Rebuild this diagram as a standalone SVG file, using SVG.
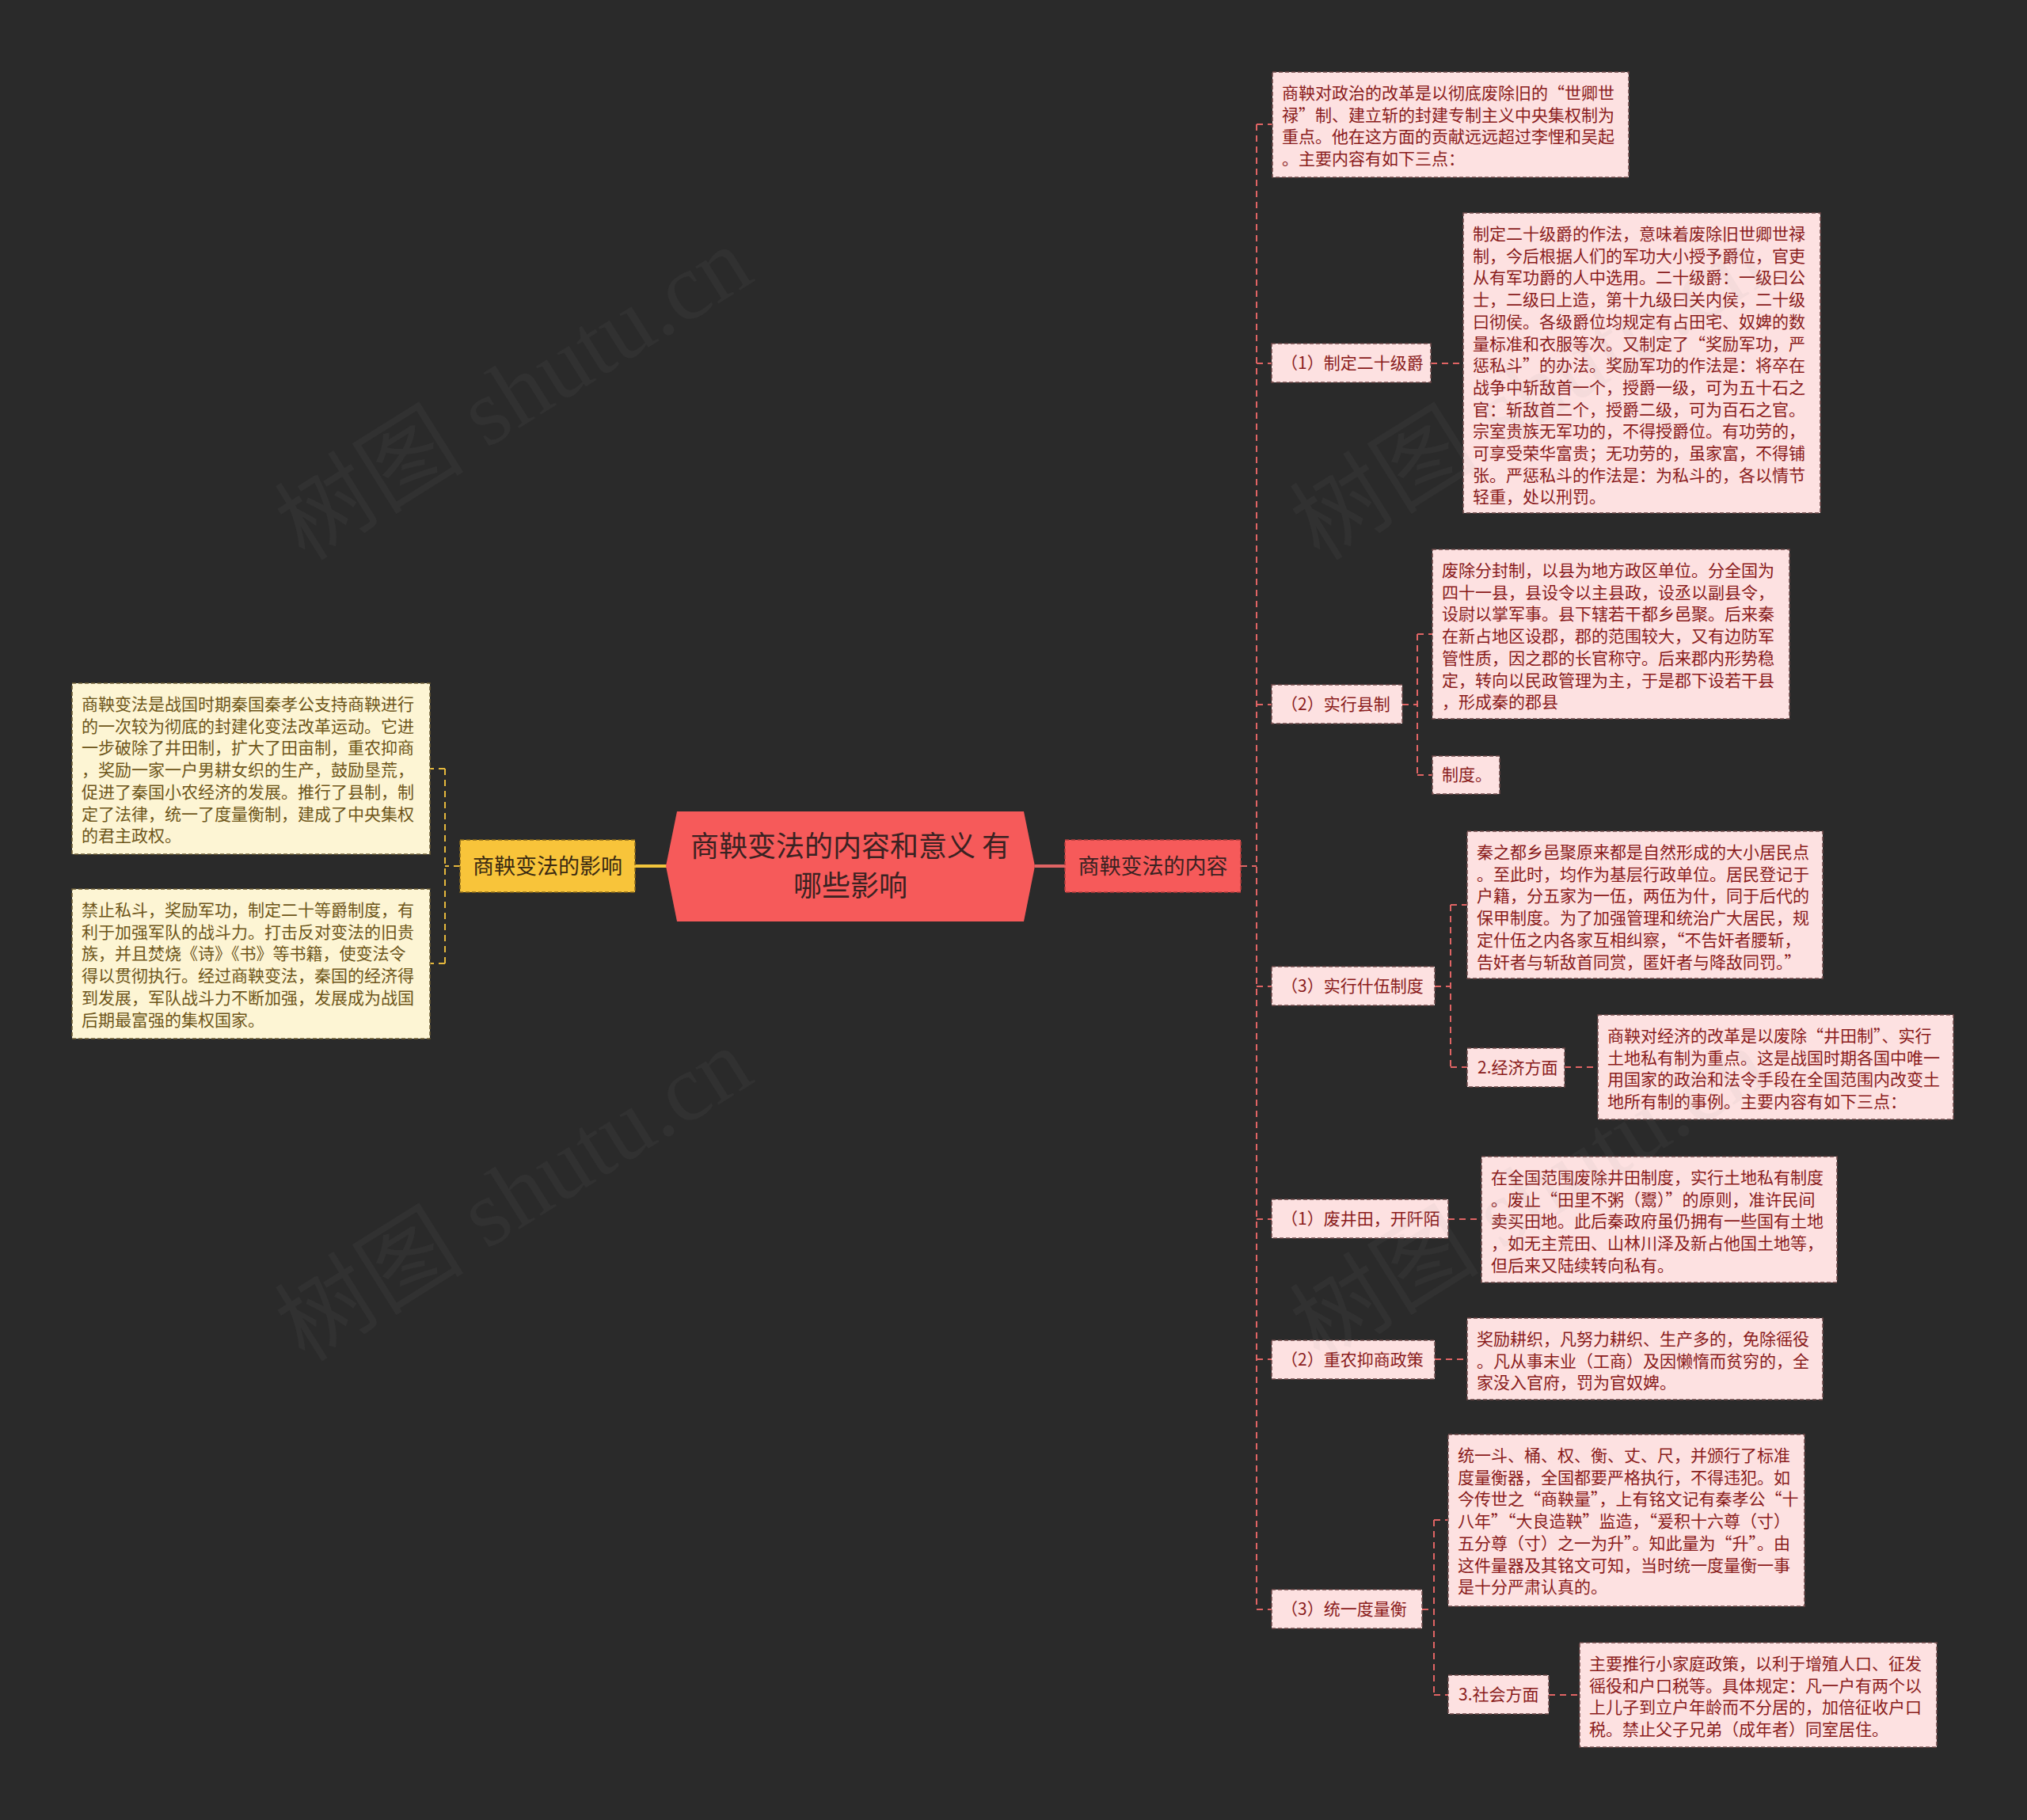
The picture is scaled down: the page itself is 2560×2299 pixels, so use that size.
<svg xmlns="http://www.w3.org/2000/svg" width="2560" height="2299" viewBox="0 0 2560 2299">
<style>
text{font-family:"Noto Sans CJK SC","Noto Sans",sans-serif;}
.lr{fill:#fde1e1;stroke:#6e4848;stroke-width:1.5;stroke-dasharray:5 3;}
.ll{fill:#fdf5d4;stroke:#6e5e34;stroke-width:1.5;stroke-dasharray:5 3;}
.tr{fill:#8a1c1c;font-size:21px;}
.tl{fill:#6e561a;font-size:21px;}
.cr{fill:none;stroke:#e06464;stroke-width:2;stroke-dasharray:8 6;}
.cl{fill:none;stroke:#e6b83c;stroke-width:2;stroke-dasharray:8 6;}
.wm{font-family:"Liberation Serif","Noto Sans CJK SC",serif;font-size:120px;fill:#8a8a8a;fill-opacity:0.07;}
</style>
<rect x="0" y="0" width="2560" height="2299" fill="#2a2a2a"/>

<g id="connectors">
<path class="cl" d="M581,1094 H562 M562,971 V1217 M562,971 H543 M562,1217 H543"/>
<path d="M802,1094 H842" stroke="#f2c53c" stroke-width="4" fill="none"/>
<path d="M1307,1094 H1345" stroke="#e06464" stroke-width="4" fill="none"/>
<path class="cr" d="M1567,1094 H1587 M1587,157 V2033 M1587,157 H1607 M1587,459 H1606 M1587,890 H1606 M1587,1246 H1606 M1587,1540 H1606 M1587,1717 H1606 M1587,2033 H1606"/>
<path class="cr" d="M1807,459 H1848"/>
<path class="cr" d="M1771,890 H1790 M1790,801 V979 M1790,801 H1809 M1790,979 H1809"/>
<path class="cr" d="M1812,1246 H1832 M1832,1143 V1348 M1832,1143 H1853 M1832,1348 H1853"/>
<path class="cr" d="M1976,1348 H2018"/>
<path class="cr" d="M1829,1540 H1871"/>
<path class="cr" d="M1812,1717 H1853"/>
<path class="cr" d="M1796,2033 H1811 M1811,1920 V2141 M1811,1920 H1829 M1811,2141 H1829"/>
<path class="cr" d="M1956,2141 H1995"/>
</g>

<g id="root">
<polygon points="855,1025 1293,1025 1307,1094 1293,1164 855,1164 841,1094" fill="#f65a5a"/>
<text x="1074" y="1082" text-anchor="middle" font-size="36" fill="#3a2222">商鞅变法的内容和意义 有</text>
<text x="1074" y="1132" text-anchor="middle" font-size="36" fill="#3a2222">哪些影响</text>
</g>

<g id="n-influence">
<rect x="581" y="1061" width="221" height="66" fill="#f8c43a" stroke="#8a6a1a" stroke-width="1.5" stroke-dasharray="5 3"/>
<text x="691.5" y="1104" text-anchor="middle" font-size="27" fill="#3a2a12">商鞅变法的影响</text>
</g>
<g id="n-influence-1">
<rect class="ll" x="91" y="863" width="452" height="216"/>
<text class="tl"><tspan x="103" y="897">商鞅变法是战国时期秦国秦孝公支持商鞅进行</tspan><tspan x="103" y="924.7">的一次较为彻底的封建化变法改革运动。它进</tspan><tspan x="103" y="952.4">一步破除了井田制，扩大了田亩制，重农抑商</tspan><tspan x="103" y="980.1">，奖励一家一户男耕女织的生产，鼓励垦荒，</tspan><tspan x="103" y="1007.8">促进了秦国小农经济的发展。推行了县制，制</tspan><tspan x="103" y="1035.5">定了法律，统一了度量衡制，建成了中央集权</tspan><tspan x="103" y="1063.2">的君主政权。</tspan></text>
</g>
<g id="n-influence-2">
<rect class="ll" x="91" y="1123" width="452" height="189"/>
<text class="tl"><tspan x="103" y="1157">禁止私斗，奖励军功，制定二十等爵制度，有</tspan><tspan x="103" y="1184.7">利于加强军队的战斗力。打击反对变法的旧贵</tspan><tspan x="103" y="1212.4">族，并且焚烧《诗》《书》等书籍，使变法令</tspan><tspan x="103" y="1240.1">得以贯彻执行。经过商鞅变法，秦国的经济得</tspan><tspan x="103" y="1267.8">到发展，军队战斗力不断加强，发展成为战国</tspan><tspan x="103" y="1295.5">后期最富强的集权国家。</tspan></text>
</g>

<g id="n-content">
<rect x="1345" y="1061" width="222" height="66" fill="#f65a5a" stroke="#b23c3c" stroke-width="1.5" stroke-dasharray="5 3"/>
<text x="1456" y="1104" text-anchor="middle" font-size="27" fill="#3a2222">商鞅变法的内容</text>
</g>

<g id="n-politics">
<rect class="lr" x="1607" y="91" width="450" height="133"/>
<text class="tr"><tspan x="1619" y="125">商鞅对政治的改革是以彻底废除旧的“世卿世</tspan><tspan x="1619" y="152.7">禄”制、建立斩的封建专制主义中央集权制为</tspan><tspan x="1619" y="180.4">重点。他在这方面的贡献远远超过李悝和吴起</tspan><tspan x="1619" y="208.1">。主要内容有如下三点：</tspan></text>
</g>

<g id="n-p1">
<rect class="lr" x="1606" y="434" width="201" height="49"/>
<text class="tr" x="1618" y="466">（1）制定二十级爵</text>
</g>
<g id="n-p1-d">
<rect class="lr" x="1848" y="269" width="451" height="379"/>
<text class="tr"><tspan x="1860" y="303">制定二十级爵的作法，意味着废除旧世卿世禄</tspan><tspan x="1860" y="330.7">制，今后根据人们的军功大小授予爵位，官吏</tspan><tspan x="1860" y="358.4">从有军功爵的人中选用。二十级爵：一级曰公</tspan><tspan x="1860" y="386.1">士，二级曰上造，第十九级曰关内侯，二十级</tspan><tspan x="1860" y="413.8">曰彻侯。各级爵位均规定有占田宅、奴婢的数</tspan><tspan x="1860" y="441.5">量标准和衣服等次。又制定了“奖励军功，严</tspan><tspan x="1860" y="469.2">惩私斗”的办法。奖励军功的作法是：将卒在</tspan><tspan x="1860" y="496.9">战争中斩敌首一个，授爵一级，可为五十石之</tspan><tspan x="1860" y="524.6">官：斩敌首二个，授爵二级，可为百石之官。</tspan><tspan x="1860" y="552.3">宗室贵族无军功的，不得授爵位。有功劳的，</tspan><tspan x="1860" y="580">可享受荣华富贵；无功劳的，虽家富，不得铺</tspan><tspan x="1860" y="607.7">张。严惩私斗的作法是：为私斗的，各以情节</tspan><tspan x="1860" y="635.4">轻重，处以刑罚。</tspan></text>
</g>

<g id="n-p2">
<rect class="lr" x="1606" y="865" width="165" height="49"/>
<text class="tr" x="1618" y="897">（2）实行县制</text>
</g>
<g id="n-p2-d">
<rect class="lr" x="1809" y="694" width="451" height="214"/>
<text class="tr"><tspan x="1821" y="728">废除分封制，以县为地方政区单位。分全国为</tspan><tspan x="1821" y="755.7">四十一县，县设令以主县政，设丞以副县令，</tspan><tspan x="1821" y="783.4">设尉以掌军事。县下辖若干都乡邑聚。后来秦</tspan><tspan x="1821" y="811.1">在新占地区设郡，郡的范围较大，又有边防军</tspan><tspan x="1821" y="838.8">管性质，因之郡的长官称守。后来郡内形势稳</tspan><tspan x="1821" y="866.5">定，转向以民政管理为主，于是郡下设若干县</tspan><tspan x="1821" y="894.2">，形成秦的郡县</tspan></text>
</g>
<g id="n-p2-e">
<rect class="lr" x="1809" y="955" width="85" height="48"/>
<text class="tr" x="1821" y="986">制度。</text>
</g>

<g id="n-p3">
<rect class="lr" x="1606" y="1221" width="206" height="49"/>
<text class="tr" x="1618" y="1253">（3）实行什伍制度</text>
</g>
<g id="n-p3-d">
<rect class="lr" x="1853" y="1050" width="449" height="186"/>
<text class="tr"><tspan x="1865" y="1084">秦之都乡邑聚原来都是自然形成的大小居民点</tspan><tspan x="1865" y="1111.7">。至此时，均作为基层行政单位。居民登记于</tspan><tspan x="1865" y="1139.4">户籍，分五家为一伍，两伍为什，同于后代的</tspan><tspan x="1865" y="1167.1">保甲制度。为了加强管理和统治广大居民，规</tspan><tspan x="1865" y="1194.8">定什伍之内各家互相纠察，“不告奸者腰斩，</tspan><tspan x="1865" y="1222.5">告奸者与斩敌首同赏，匿奸者与降敌同罚。”</tspan></text>
</g>

<g id="n-econ">
<rect class="lr" x="1853" y="1324" width="123" height="49"/>
<text class="tr" x="1866" y="1356">2.经济方面</text>
</g>
<g id="n-econ-d">
<rect class="lr" x="2018" y="1282" width="449" height="132"/>
<text class="tr"><tspan x="2030" y="1316">商鞅对经济的改革是以废除“井田制”、实行</tspan><tspan x="2030" y="1343.7">土地私有制为重点。这是战国时期各国中唯一</tspan><tspan x="2030" y="1371.4">用国家的政治和法令手段在全国范围内改变土</tspan><tspan x="2030" y="1399.1">地所有制的事例。主要内容有如下三点：</tspan></text>
</g>

<g id="n-e1">
<rect class="lr" x="1606" y="1515" width="223" height="49"/>
<text class="tr" x="1618" y="1547">（1）废井田，开阡陌</text>
</g>
<g id="n-e1-d">
<rect class="lr" x="1871" y="1461" width="449" height="159"/>
<text class="tr"><tspan x="1883" y="1495">在全国范围废除井田制度，实行土地私有制度</tspan><tspan x="1883" y="1522.7">。废止“田里不粥（鬻）”的原则，准许民间</tspan><tspan x="1883" y="1550.4">卖买田地。此后秦政府虽仍拥有一些国有土地</tspan><tspan x="1883" y="1578.1">，如无主荒田、山林川泽及新占他国土地等，</tspan><tspan x="1883" y="1605.8">但后来又陆续转向私有。</tspan></text>
</g>

<g id="n-e2">
<rect class="lr" x="1606" y="1693" width="206" height="49"/>
<text class="tr" x="1618" y="1725">（2）重农抑商政策</text>
</g>
<g id="n-e2-d">
<rect class="lr" x="1853" y="1665" width="449" height="103"/>
<text class="tr"><tspan x="1865" y="1699">奖励耕织，凡努力耕织、生产多的，免除徭役</tspan><tspan x="1865" y="1726.7">。凡从事末业（工商）及因懒惰而贫穷的，全</tspan><tspan x="1865" y="1754.4">家没入官府，罚为官奴婢。</tspan></text>
</g>

<g id="n-e3">
<rect class="lr" x="1606" y="2008" width="190" height="49"/>
<text class="tr" x="1618" y="2040">（3）统一度量衡</text>
</g>
<g id="n-e3-d">
<rect class="lr" x="1829" y="1812" width="450" height="217"/>
<text class="tr"><tspan x="1841" y="1846">统一斗、桶、权、衡、丈、尺，并颁行了标准</tspan><tspan x="1841" y="1873.7">度量衡器，全国都要严格执行，不得违犯。如</tspan><tspan x="1841" y="1901.4">今传世之“商鞅量”，上有铭文记有秦孝公“十</tspan><tspan x="1841" y="1929.1">八年”“大良造鞅”监造，“爰积十六尊（寸）</tspan><tspan x="1841" y="1956.8">五分尊（寸）之一为升”。知此量为“升”。由</tspan><tspan x="1841" y="1984.5">这件量器及其铭文可知，当时统一度量衡一事</tspan><tspan x="1841" y="2012.2">是十分严肃认真的。</tspan></text>
</g>

<g id="n-soc">
<rect class="lr" x="1829" y="2116" width="127" height="49"/>
<text class="tr" x="1842" y="2148">3.社会方面</text>
</g>
<g id="n-soc-d">
<rect class="lr" x="1995" y="2075" width="451" height="132"/>
<text class="tr"><tspan x="2007" y="2109">主要推行小家庭政策，以利于增殖人口、征发</tspan><tspan x="2007" y="2136.7">徭役和户口税等。具体规定：凡一户有两个以</tspan><tspan x="2007" y="2164.4">上儿子到立户年龄而不分居的，加倍征收户口</tspan><tspan x="2007" y="2192.1">税。禁止父子兄弟（成年者）同室居住。</tspan></text>
</g>

<g id="watermarks">
<text class="wm" transform="translate(385,710) rotate(-32)">树图 shutu.cn</text>
<text class="wm" transform="translate(385,1722) rotate(-32)">树图 shutu.cn</text>
<text class="wm" transform="translate(1667,710) rotate(-32)">树图 shutu.cn</text>
<text class="wm" transform="translate(1667,1722) rotate(-32)">树图 shutu.cn</text>
</g>
</svg>
